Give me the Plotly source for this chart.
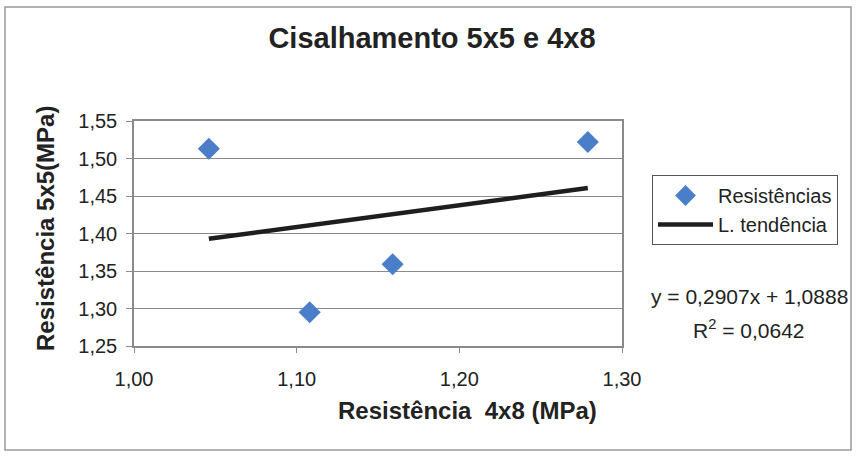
import plotly.graph_objects as go

# Shear strength: 4x8 specimens (x) vs 5x5 specimens (y), MPa
res_4x8 = [1.046, 1.108, 1.159, 1.279]
res_5x5 = [1.513, 1.295, 1.359, 1.522]

# Linear trend line coefficients
slope = 0.2907
intercept = 1.0888
r2 = 0.0642

x_ticks = [1.00, 1.10, 1.20, 1.30]
y_ticks = [1.25, 1.30, 1.35, 1.40, 1.45, 1.50, 1.55]

trend_x = [min(res_4x8), max(res_4x8)]
trend_y = [slope * v + intercept for v in trend_x]

FONT = "Liberation Sans, Arial, sans-serif"
INK = "#222222"

fig = go.Figure()
fig.add_trace(go.Scatter(
    x=res_4x8, y=res_5x5, mode="markers", name="Resistências",
    marker=dict(symbol="diamond", size=17, color="#4a7ec8",
                line=dict(width=0)),
))
fig.add_trace(go.Scatter(
    x=trend_x, y=trend_y, mode="lines", name="L. tendência",
    line=dict(color="#1e1e1e", width=4.5),
))

W, H = 856, 458
L, R, T, B = 134, 234, 121, 112
pw, ph = W - L - R, H - T - B

def px_x(p):
    return (p - L) / pw

def px_y(p):
    return (H - B - p) / ph

fig.update_layout(
    width=W, height=H,
    margin=dict(l=L, r=R, t=T, b=B),
    paper_bgcolor="white", plot_bgcolor="white",
    separators=",.",
    font=dict(family=FONT, color=INK, size=20),
    title=dict(text="<b>Cisalhamento 5x5 e 4x8</b>", x=432 / W, xanchor="center",
               y=1 - 38 / H, yanchor="middle",
               font=dict(size=29, family=FONT, color=INK)),
    showlegend=True,
    legend=dict(x=px_x(652), y=px_y(175), xanchor="left", yanchor="top",
                bordercolor="#555555", borderwidth=1, bgcolor="white",
                font=dict(size=20, family=FONT, color=INK), itemwidth=55,
                tracegroupgap=0),
    xaxis=dict(range=[1.00, 1.30], tickvals=x_ticks, tickformat=".2f",
               showgrid=False, zeroline=False, showline=True, mirror=True,
               linecolor="#8a8a8a", linewidth=1.5,
               ticks="outside", ticklen=5, tickcolor="#8a8a8a",
               ticklabelstandoff=9, tickfont=dict(size=20)),
    yaxis=dict(range=[1.25, 1.55], tickvals=y_ticks, tickformat=".2f",
               showgrid=True, gridcolor="#8a8a8a", gridwidth=1,
               zeroline=False, showline=True, mirror=True,
               linecolor="#8a8a8a", linewidth=1.5,
               ticks="outside", ticklen=6, tickcolor="#8a8a8a",
               ticklabelstandoff=5, tickfont=dict(size=20)),
)

# Axis titles
fig.add_annotation(
    xref="paper", yref="paper", x=px_x(467), y=px_y(411),
    xanchor="center", yanchor="middle", showarrow=False,
    text="<b>Resistência  4x8 (MPa)</b>", font=dict(size=24, family=FONT, color=INK),
)
fig.add_annotation(
    xref="paper", yref="paper", x=px_x(45), y=px_y(229),
    xanchor="center", yanchor="middle", showarrow=False, textangle=-90,
    text="<b>Resistência 5x5(MPa)</b>", font=dict(size=24, family=FONT, color=INK),
)

# Trend line equation and R²
fig.add_annotation(
    xref="paper", yref="paper", x=px_x(749), y=px_y(296),
    xanchor="center", yanchor="middle", showarrow=False,
    text=f"y = {slope:.4f}x + {intercept:.4f}".replace(".", ","),
    font=dict(size=21, family=FONT, color=INK),
)
fig.add_annotation(
    xref="paper", yref="paper", x=px_x(749), y=px_y(329),
    xanchor="center", yanchor="middle", showarrow=False,
    text=f"R<sup>2</sup> = {r2:.4f}".replace(".", ","),
    font=dict(size=21, family=FONT, color=INK),
)

# Outer chart frame
fig.add_shape(type="rect", xref="paper", yref="paper",
              x0=px_x(5), x1=px_x(851), y0=px_y(450), y1=px_y(7),
              line=dict(color="#9a9a9a", width=1.5), layer="below")

fig.write_html("out.html")
